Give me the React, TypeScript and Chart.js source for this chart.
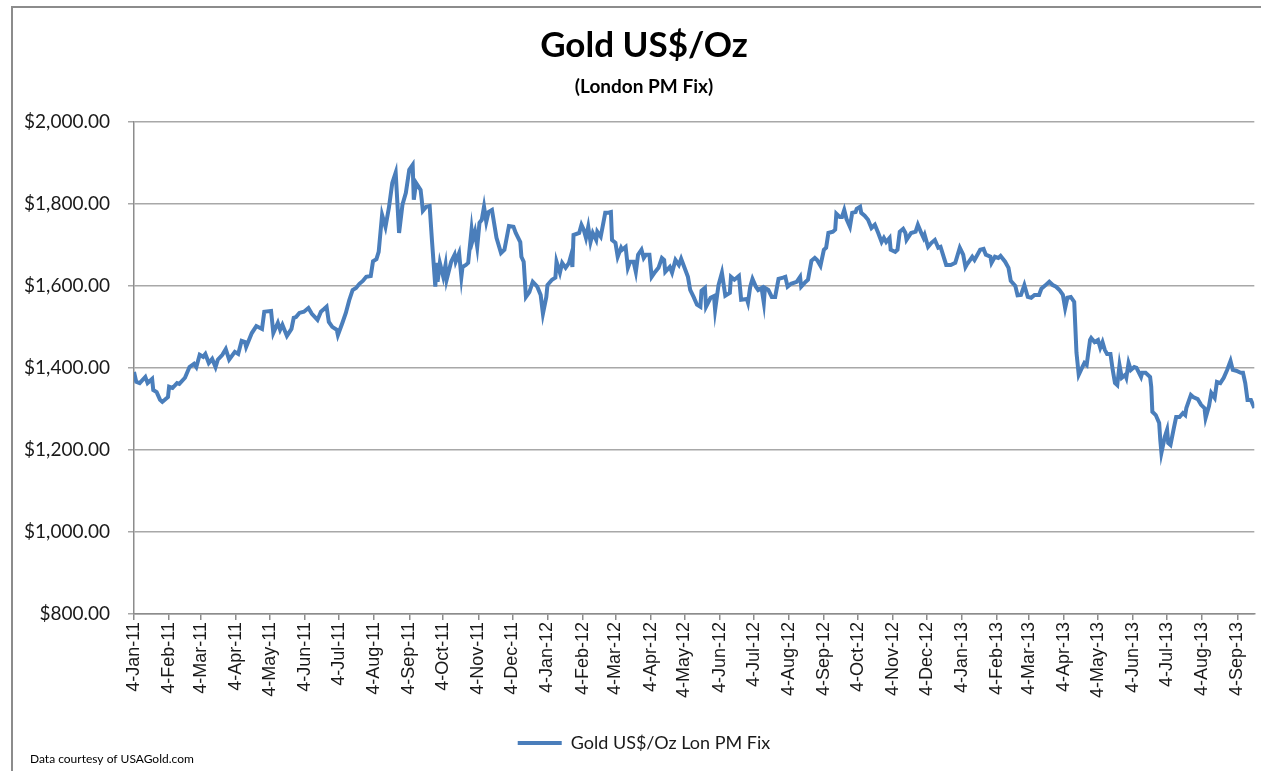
import React, { useEffect, useRef } from "react";
import { Chart, registerables } from "chart.js";

Chart.register(...registerables);

// ---- Data ----
const START_DATE = "2011-01-04"; // day offset 0
const titleText = "Gold US$/Oz";
const subtitleText = "(London PM Fix)";
const seriesLabel = "Gold US$/Oz Lon PM Fix";
const sourceNote = "Data courtesy of USAGold.com";

const tickLabels = [
  "4-Jan-11", "4-Feb-11", "4-Mar-11", "4-Apr-11", "4-May-11", "4-Jun-11",
  "4-Jul-11", "4-Aug-11", "4-Sep-11", "4-Oct-11", "4-Nov-11", "4-Dec-11",
  "4-Jan-12", "4-Feb-12", "4-Mar-12", "4-Apr-12", "4-May-12", "4-Jun-12",
  "4-Jul-12", "4-Aug-12", "4-Sep-12", "4-Oct-12", "4-Nov-12", "4-Dec-12",
  "4-Jan-13", "4-Feb-13", "4-Mar-13", "4-Apr-13", "4-May-13", "4-Jun-13",
  "4-Jul-13", "4-Aug-13", "4-Sep-13",
];

const yMin = 800;
const yMax = 2000;
const yStep = 200;

// days since START_DATE
const dayOffsets = [
  0, 2, 5, 10, 12, 16, 17, 20, 23, 25,
  30, 31, 34, 38, 40, 45, 49, 53, 55, 58,
  61, 63, 66, 69, 72, 74, 78, 81, 84, 89,
  92, 95, 98, 99, 104, 108, 113, 115, 121, 123,
  127, 129, 131, 135, 139, 141, 143, 146, 150, 154,
  157, 162, 165, 168, 170, 172, 175, 179, 180, 184,
  187, 190, 193, 196, 199, 202, 205, 209, 211, 214,
  216, 219, 222, 225, 228, 231, 234, 237, 240, 243,
  246, 247, 249, 253, 254, 255, 258, 261, 263, 266,
  267, 268, 270, 273, 275, 276, 280, 283, 284, 287,
  289, 290, 293, 295, 298, 299, 301, 303, 305, 307,
  309, 311, 313, 316, 320, 324, 327, 331, 335, 337,
  341, 342, 344, 346, 349, 352, 356, 359, 361, 364,
  365, 369, 372, 373, 376, 378, 381, 384, 386, 387,
  388, 393, 395, 397, 399, 401, 403, 405, 408, 409,
  412, 414, 416, 418, 421, 422, 425, 427, 430, 431,
  434, 436, 438, 441, 443, 445, 448, 450, 452, 455,
  457, 460, 463, 466, 468, 469, 473, 475, 478, 481,
  483, 486, 489, 491, 494, 497, 500, 501, 504, 505,
  509, 512, 513, 516, 519, 522, 526, 527, 530, 534,
  536, 541, 542, 544, 546, 549, 551, 554, 556, 557,
  560, 563, 566, 569, 573, 575, 577, 580, 585, 588,
  589, 593, 595, 598, 601, 603, 606, 609, 611, 613,
  617, 619, 620, 623, 625, 627, 629, 632, 634, 637,
  638, 641, 642, 645, 648, 651, 654, 657, 660, 662,
  664, 667, 668, 672, 674, 676, 679, 681, 682, 686,
  690, 692, 695, 697, 698, 701, 704, 707, 710, 712,
  717, 721, 725, 729, 732, 734, 735, 738, 740, 742,
  747, 750, 752, 756, 757, 760, 763, 765, 769, 772,
  774, 778, 780, 783, 786, 789, 792, 795, 799, 801,
  804, 808, 811, 814, 817, 820, 822, 824, 827, 830,
  831, 832, 834, 836, 839, 841, 844, 845, 848, 851,
  853, 855, 857, 859, 862, 864, 866, 868, 870, 872,
  875, 876, 878, 880, 883, 885, 889, 890, 893, 897,
  898, 899, 902, 905, 906, 907, 910, 912, 913, 915,
  918, 920, 923, 926, 928, 929, 933, 935, 939, 942,
  945, 946, 949, 951, 954, 956, 959, 962, 965, 968,
  970, 973, 977, 979, 981, 983, 986, 989,
];

// US$ per ounce
const prices = [
  1390, 1366, 1363, 1378, 1363, 1373, 1346, 1341, 1322, 1317,
  1329, 1354, 1351, 1363, 1361, 1376, 1402, 1410, 1402, 1432,
  1427, 1434, 1412, 1422, 1402, 1420, 1432, 1446, 1420, 1439,
  1434, 1466, 1463, 1451, 1485, 1502, 1495, 1537, 1539, 1485,
  1510, 1493, 1505, 1478, 1495, 1522, 1524, 1534, 1537, 1546,
  1532, 1517, 1537, 1544, 1549, 1512, 1500, 1493, 1480, 1510,
  1534, 1565, 1590, 1595, 1605, 1612, 1622, 1624, 1660, 1665,
  1683, 1773, 1744, 1790, 1851, 1876, 1729, 1798, 1827, 1883,
  1895, 1810, 1851, 1834, 1810, 1783, 1793, 1795, 1712, 1598,
  1656, 1610, 1656, 1622, 1651, 1615, 1659, 1676, 1659, 1680,
  1622, 1646, 1651, 1656, 1737, 1712, 1732, 1695, 1754, 1761,
  1793, 1756, 1780, 1785, 1717, 1680, 1688, 1746, 1744, 1729,
  1707, 1671, 1659, 1573, 1585, 1610, 1598, 1578, 1532, 1573,
  1602, 1615, 1620, 1659, 1632, 1656, 1644, 1656, 1676, 1646,
  1724, 1729, 1749, 1737, 1717, 1744, 1707, 1729, 1712, 1732,
  1720, 1749, 1778, 1778, 1780, 1712, 1705, 1671, 1693, 1688,
  1695, 1644, 1659, 1659, 1634, 1676, 1688, 1668, 1676, 1676,
  1622, 1634, 1644, 1668, 1663, 1634, 1646, 1632, 1663, 1651,
  1666, 1644, 1622, 1590, 1573, 1554, 1549, 1588, 1595, 1549,
  1571, 1575, 1541, 1602, 1632, 1576, 1583, 1622, 1615, 1624,
  1566, 1568, 1559, 1598, 1617, 1598, 1590, 1595, 1559, 1595,
  1590, 1573, 1573, 1617, 1620, 1622, 1598, 1605, 1610, 1622,
  1598, 1610, 1615, 1661, 1668, 1663, 1649, 1688, 1693, 1729,
  1732, 1737, 1776, 1768, 1768, 1785, 1763, 1744, 1778, 1780,
  1788, 1793, 1778, 1771, 1761, 1741, 1749, 1729, 1707, 1717,
  1707, 1717, 1688, 1683, 1688, 1732, 1739, 1729, 1712, 1729,
  1732, 1749, 1729, 1717, 1724, 1695, 1705, 1712, 1693, 1695,
  1651, 1651, 1656, 1693, 1676, 1646, 1651, 1663, 1671, 1663,
  1688, 1690, 1676, 1671, 1656, 1671, 1668, 1673, 1659, 1644,
  1612, 1600, 1577, 1578, 1602, 1573, 1571, 1578, 1578, 1593,
  1600, 1610, 1602, 1598, 1590, 1578, 1546, 1571, 1573, 1561,
  1500, 1437, 1383, 1395, 1412, 1407, 1468, 1473, 1463, 1468,
  1449, 1463, 1444, 1434, 1434, 1395, 1363, 1358, 1407, 1376,
  1383, 1376, 1412, 1395, 1402, 1400, 1378, 1388, 1388, 1378,
  1354, 1293, 1285, 1266, 1224, 1193, 1232, 1249, 1217, 1212,
  1254, 1280, 1280, 1290, 1285, 1302, 1334, 1329, 1324, 1310,
  1302, 1278, 1307, 1339, 1327, 1366, 1363, 1376, 1395, 1417,
  1395, 1393, 1388, 1388, 1363, 1322, 1322, 1302,
];

// ---- helpers ----
const MONTHS: Record<string, number> = {
  Jan: 0, Feb: 1, Mar: 2, Apr: 3, May: 4, Jun: 5,
  Jul: 6, Aug: 7, Sep: 8, Oct: 9, Nov: 10, Dec: 11,
};
const startMs = Date.parse(START_DATE + "T00:00:00Z");
function labelToOffset(lbl: string): number {
  const [d, m, y] = lbl.split("-");
  const ms = Date.UTC(2000 + Number(y), MONTHS[m], Number(d));
  return Math.round((ms - startMs) / 86400000);
}
function money(v: number): string {
  const s = Math.round(v).toString().replace(/\B(?=(\d{3})+(?!\d))/g, ",");
  return "$" + s + ".00";
}

const W = 1261;
const H = 771;
const LINE_COLOR = "#4a7ebb";
const TEXT_COLOR = "#1a1a1a";

export default function App() {
  const ref = useRef<HTMLCanvasElement | null>(null);

  useEffect(() => {
    document.body.style.margin = "0";
    document.body.style.overflow = "hidden";
    const canvas = ref.current;
    if (!canvas) return;
    const tickOffsets = tickLabels.map(labelToOffset);
    const points = dayOffsets.map((d, i) => ({ x: d, y: prices[i] }));

    const decor = {
      id: "decor",
      beforeDraw(chart: any) {
        const ctx = chart.ctx;
        ctx.save();
        ctx.fillStyle = "#ffffff";
        ctx.fillRect(0, 0, chart.width, chart.height);
        ctx.strokeStyle = "#8c8c8c";
        ctx.lineWidth = 2;
        ctx.beginPath();
        ctx.moveTo(12, chart.height + 4);
        ctx.lineTo(12, 7);
        ctx.lineTo(chart.width + 4, 7);
        ctx.stroke();
        ctx.restore();
      },
      afterDraw(chart: any) {
        const ctx = chart.ctx;
        ctx.save();
        ctx.fillStyle = "#000000";
        ctx.font = "12px Lato";
        ctx.textBaseline = "middle";
        ctx.textAlign = "left";
        ctx.fillText(sourceNote, 30, 759);
        ctx.restore();
      },
    };

    const chart = new Chart(canvas, {
      type: "line",
      data: {
        datasets: [
          {
            label: seriesLabel,
            data: points,
            borderColor: LINE_COLOR,
            backgroundColor: LINE_COLOR,
            borderWidth: 4,
            pointRadius: 0,
            fill: false,
            tension: 0,
          },
        ],
      },
      options: {
        responsive: false,
        animation: false,
        events: [],
        layout: { padding: { left: 32, right: 5, top: 0, bottom: 9 } },
        plugins: {
          title: {
            display: true,
            text: titleText,
            color: "#000000",
            font: { family: "Lato", size: 35, weight: "bold" },
            padding: { top: 25, bottom: 0 },
          },
          subtitle: {
            display: true,
            text: subtitleText,
            color: "#000000",
            font: { family: "Lato", size: 19, weight: "bold" },
            padding: { top: 8, bottom: 24 },
          },
          legend: {
            display: true,
            position: "bottom",
            labels: {
              usePointStyle: true,
              pointStyle: "line",
              pointStyleWidth: 44,
              color: TEXT_COLOR,
              font: { family: "Lato", size: 18 },
              padding: 10,
            },
          },
          tooltip: { enabled: false },
        },
        scales: {
          x: {
            type: "linear",
            min: 0,
            max: dayOffsets[dayOffsets.length - 1],
            afterBuildTicks(scale: any) {
              scale.ticks = tickOffsets.map((v) => ({ value: v }));
            },
            afterFit(scale: any) {
              scale.height = 110;
            },
            grid: {
              display: true,
              drawOnChartArea: false,
              drawTicks: true,
              tickLength: 6,
              color: "#8c8c8c",
              lineWidth: 1.5,
            },
            border: { display: true, color: "#8c8c8c", width: 1.5 },
            ticks: {
              autoSkip: false,
              minRotation: 90,
              maxRotation: 90,
              padding: 2,
              color: TEXT_COLOR,
              font: { family: "Liberation Sans", size: 18 },
              callback: (_v: any, i: number) => tickLabels[i],
            },
          },
          y: {
            type: "linear",
            position: "left",
            min: yMin,
            max: yMax,
            afterFit(scale: any) {
              scale.width = 102;
              // let the tick labels extend left of the axis box without clipping
              scale._computeLabelArea = () => undefined;
            },
            grid: {
              color: "#a8a8a8",
              lineWidth: 1.5,
              drawTicks: true,
              tickLength: 6,
            },
            border: { display: true, color: "#8c8c8c", width: 1.5 },
            ticks: {
              stepSize: yStep,
              padding: 18,
              color: TEXT_COLOR,
              font: { family: "Lato", size: 19 },
              callback: (v: any) => money(Number(v)),
            },
          },
        },
      },
      plugins: [decor],
    } as any);

    return () => chart.destroy();
  }, []);

  return (
    <div style={{ position: "relative", width: W, height: H }}>
      <canvas ref={ref} width={W} height={H} style={{ width: W, height: H, display: "block" }} />
    </div>
  );
}
